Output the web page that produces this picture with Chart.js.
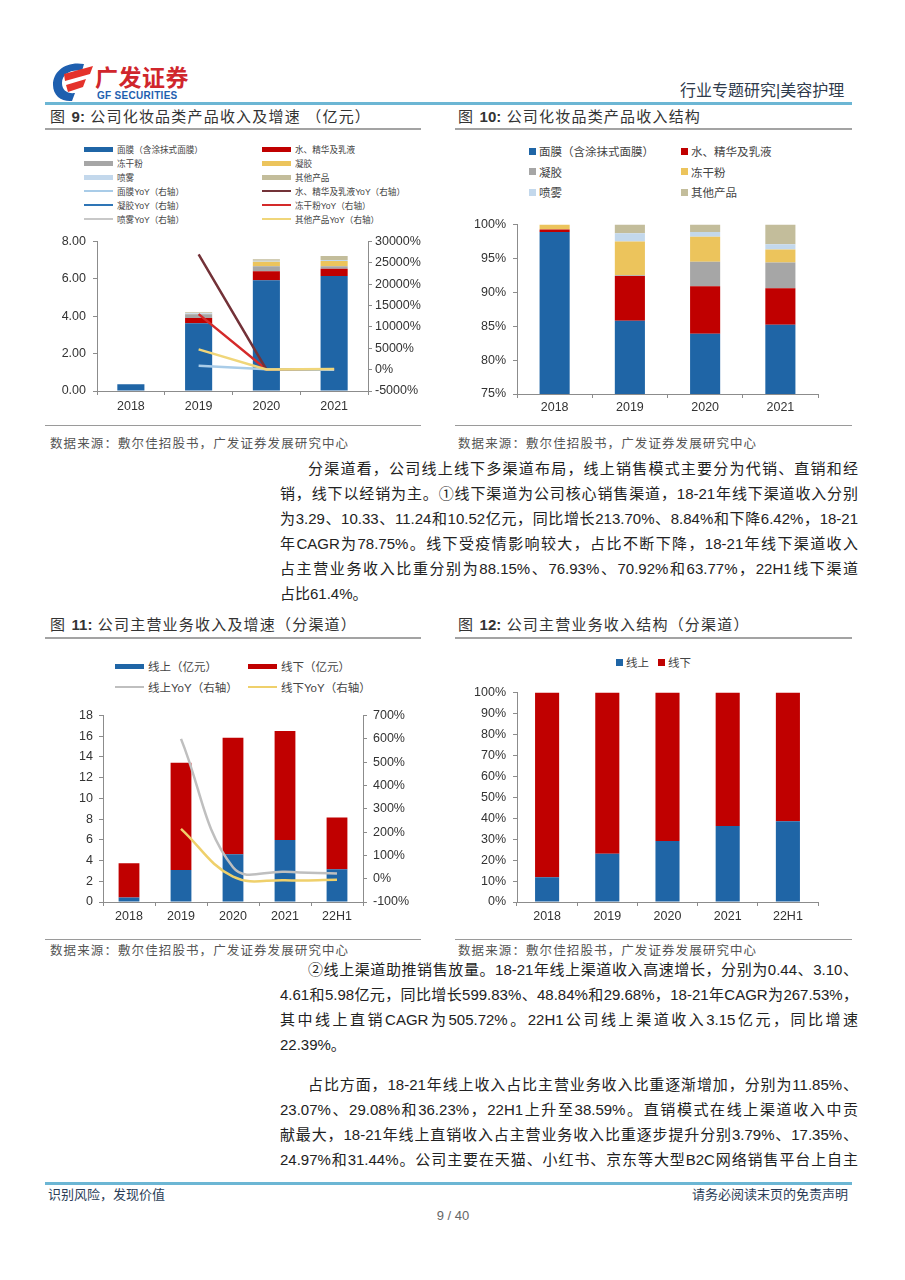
<!DOCTYPE html>
<html>
<head>
<meta charset="utf-8">
<script src="https://cdn.jsdelivr.net/npm/chart.js@4.4.1/dist/chart.umd.min.js"></script>
<style>
  body {
    margin: 0;
    width: 905px;
    height: 1280px;
    position: relative;
    overflow: hidden;
    background: #fff;
    color: #333;
    font-family: "Liberation Sans", Arial, "Noto Sans CJK SC", sans-serif;
  }
  .abs { position: absolute; }
  .rule-blue { position: absolute; height: 3px; background: #6cb6d4; }
  .rule-gray { position: absolute; height: 2px; background: #a3a3a3; }
  .rule-thin { position: absolute; height: 1px; background: #9a9a9a; }
  .fig-title { position: absolute; font-size: 15px; letter-spacing: 1.2px; line-height: 20px; color: #333; white-space: nowrap; }
  .fig-title b { font-weight: bold; letter-spacing: 0; }
  .source { position: absolute; font-size: 12.5px; letter-spacing: 1.1px; line-height: 16px; color: #555; white-space: nowrap; }
  .para { position: absolute; left: 280px; width: 578px; font-size: 15px; color: #222; }
  .para div { height: 25px; line-height: 25px; text-align: justify; text-align-last: justify; }
  .para div.first { padding-left: 28px; }
  .para div.last { text-align-last: left; }
  .legend { position: absolute; display: grid; color: #444; }
  .lg-item { display: flex; align-items: center; white-space: nowrap; }
  .sw-bar { display: inline-block; width: 29px; height: 5px; margin-right: 4px; }
  .sw-line { display: inline-block; width: 29px; height: 2px; margin-right: 4px; }
  .sw-sq { display: inline-block; width: 7px; height: 7px; margin-right: 3px; }
  canvas { position: absolute; }
</style>
</head>
<body>

<!-- header -->
<svg class="abs" style="left:50px;top:61px" width="44" height="42" viewBox="0 0 44 42">
  <path d="M34 3 C16 0 3 10 3 24 C3 35 12 41 22 40 L25 32 C17 33 12 29 12 22 C12 13 21 8 32 10 Z" fill="#1e5faf"/>
  <path d="M14 13 L43 5 L40 13 L15 20 Z" fill="#e4322b"/>
  <path d="M16 24 L36 18 L33 26 L18 31 Z" fill="#e4322b"/>
</svg>
<div class="abs" style="left:95px;top:62px;font-size:23px;font-weight:bold;color:#d0262c;letter-spacing:0.5px;font-family:'Noto Sans CJK SC',sans-serif;line-height:28px">广发证券</div>
<div class="abs" style="left:97px;top:90px;font-size:10px;font-weight:bold;color:#1e5faf;letter-spacing:0.3px;line-height:12px">GF SECURITIES</div>
<div class="abs" style="left:680px;top:80px;font-size:16px;color:#2f3b4c;line-height:22px;white-space:nowrap">行业专题研究|美容护理</div>
<div class="rule-blue" style="left:45px;top:102px;width:807px"></div>

<!-- figure 9 / 10 titles -->
<div class="fig-title" style="left:50px;top:107px">图 <b>9:</b> 公司化妆品类产品收入及增速 （亿元）</div>
<div class="rule-gray" style="left:45px;top:128px;width:376px"></div>
<div class="fig-title" style="left:458px;top:107px">图 <b>10:</b> 公司化妆品类产品收入结构</div>
<div class="rule-gray" style="left:455px;top:128px;width:397px"></div>

<div id="legend9" class="legend" style="left:84px;top:142px;grid-template-columns:178px 180px;grid-auto-rows:14px;font-size:8.6px"></div>
<canvas id="chart9" width="380" height="191" style="left:45px;top:227px"></canvas>

<div id="legend10" class="legend" style="left:529px;top:141px;grid-template-columns:152px 150px;grid-auto-rows:20.5px;font-size:11.5px"></div>
<canvas id="chart10" width="395" height="210" style="left:455px;top:210px"></canvas>

<div class="rule-thin" style="left:45px;top:425px;width:376px"></div>
<div class="source" style="left:50px;top:436px">数据来源：敷尔佳招股书，广发证券发展研究中心</div>
<div class="rule-thin" style="left:455px;top:425px;width:397px"></div>
<div class="source" style="left:458px;top:436px">数据来源：敷尔佳招股书，广发证券发展研究中心</div>

<!-- paragraph 1 -->
<div class="para" style="top:455.5px">
  <div class="first">分渠道看，公司线上线下多渠道布局，线上销售模式主要分为代销、直销和经</div>
  <div>销，线下以经销为主。①线下渠道为公司核心销售渠道，18-21年线下渠道收入分别</div>
  <div>为3.29、10.33、11.24和10.52亿元，同比增长213.70%、8.84%和下降6.42%，18-21</div>
  <div>年CAGR为78.75%。线下受疫情影响较大，占比不断下降，18-21年线下渠道收入</div>
  <div>占主营业务收入比重分别为88.15%、76.93%、70.92%和63.77%，22H1线下渠道</div>
  <div class="last">占比61.4%。</div>
</div>

<!-- figure 11 / 12 titles -->
<div class="fig-title" style="left:50px;top:615px">图 <b>11:</b> 公司主营业务收入及增速（分渠道）</div>
<div class="rule-gray" style="left:45px;top:637px;width:376px"></div>
<div class="fig-title" style="left:458px;top:615px">图 <b>12:</b> 公司主营业务收入结构（分渠道）</div>
<div class="rule-gray" style="left:455px;top:637px;width:397px"></div>

<div id="legend11" class="legend" style="left:115px;top:655.5px;grid-template-columns:133px 150px;grid-auto-rows:21px;font-size:11.5px"></div>
<canvas id="chart11" width="380" height="230" style="left:45px;top:702px"></canvas>

<div id="legend12" class="legend" style="left:616px;top:654px;grid-template-columns:42px 50px;grid-auto-rows:16px;font-size:11.5px"></div>
<canvas id="chart12" width="395" height="255" style="left:455px;top:678px"></canvas>

<div class="rule-thin" style="left:45px;top:939px;width:376px"></div>
<div class="source" style="left:50px;top:943px">数据来源：敷尔佳招股书，广发证券发展研究中心</div>
<div class="rule-thin" style="left:455px;top:939px;width:397px"></div>
<div class="source" style="left:458px;top:943px">数据来源：敷尔佳招股书，广发证券发展研究中心</div>

<!-- paragraph 2 and 3 -->
<div class="para" style="top:956.5px">
  <div class="first">②线上渠道助推销售放量。18-21年线上渠道收入高速增长，分别为0.44、3.10、</div>
  <div>4.61和5.98亿元，同比增长599.83%、48.84%和29.68%，18-21年CAGR为267.53%，</div>
  <div>其中线上直销CAGR为505.72%。22H1公司线上渠道收入3.15亿元，同比增速</div>
  <div class="last">22.39%。</div>
</div>
<div class="para" style="top:1071.5px">
  <div class="first">占比方面，18-21年线上收入占比主营业务收入比重逐渐增加，分别为11.85%、</div>
  <div>23.07%、29.08%和36.23%，22H1上升至38.59%。直销模式在线上渠道收入中贡</div>
  <div>献最大，18-21年线上直销收入占主营业务收入比重逐步提升分别3.79%、17.35%、</div>
  <div>24.97%和31.44%。公司主要在天猫、小红书、京东等大型B2C网络销售平台上自主</div>
</div>

<!-- footer -->
<div class="rule-blue" style="left:45px;top:1182px;width:807px"></div>
<div class="abs" style="left:48px;top:1187px;font-size:13px;color:#2b3d57;line-height:16px;white-space:nowrap">识别风险，发现价值</div>
<div class="abs" style="left:692px;top:1187px;font-size:13px;color:#2b3d57;line-height:16px;white-space:nowrap">请务必阅读末页的免责声明</div>
<div class="abs" style="left:432px;top:1208px;width:42px;text-align:center;font-size:13px;color:#666;line-height:16px">9 / 40</div>

<script>
// ---------- data ----------
const years4 = ['2018', '2019', '2020', '2021'];
const years5 = ['2018', '2019', '2020', '2021', '22H1'];

// 图9: 化妆品类产品收入（亿元）
const rev9Mask = [0.355, 3.62, 5.92, 6.15];
const rev9Water = [0.002, 0.28, 0.49, 0.39];
const rev9Freeze = [0.003, 0.21, 0.26, 0.14];
const rev9Gel = [0, 0.004, 0.25, 0.27];
const rev9Spray = [0, 0.05, 0.05, 0.06];
const rev9Other = [0, 0.055, 0.08, 0.21];
// 图9: YoY (%)
const yoy9Mask = [null, 889, 63.5, 3.9];
const yoy9Water = [null, 27000, 60, -20];
const yoy9Gel = [null, null, null, 8];
const yoy9Freeze = [null, 13000, 20, -46];
const yoy9Spray = [null, null, -2, 20];
const yoy9Other = [null, 4750, 40, 160];
const ticks9Left = [0, 2, 4, 6, 8];
const ticks9Right = [-5000, 0, 5000, 10000, 15000, 20000, 25000, 30000];

// 图10: 收入结构 (%)
const share10Mask = [98.9, 85.8, 83.9, 85.2];
const share10Water = [0.35, 6.6, 7.0, 5.4];
const share10Gel = [0, 0.1, 3.6, 3.8];
const share10Freeze = [0.75, 5.0, 3.7, 1.9];
const share10Spray = [0, 1.2, 0.7, 0.8];
const share10Other = [0, 1.3, 1.1, 2.9];
const ticks10 = [75, 80, 85, 90, 95, 100];

// 图11: 分渠道收入（亿元）及YoY
const rev11Online = [0.44, 3.10, 4.61, 5.98, 3.15];
const rev11Offline = [3.29, 10.33, 11.24, 10.52, 5.01];
const yoy11Online = [null, 599.83, 48.84, 29.68, 22.39];
const yoy11Offline = [null, 213.70, 8.84, -6.42, -5];
const ticks11Left = [0, 2, 4, 6, 8, 10, 12, 14, 16, 18];
const ticks11Right = [-100, 0, 100, 200, 300, 400, 500, 600, 700];

// 图12: 分渠道收入结构 (%)
const share12Online = [11.85, 23.07, 29.08, 36.23, 38.59];
const share12Offline = [88.15, 76.93, 70.92, 63.77, 61.41];
const ticks12 = [0, 10, 20, 30, 40, 50, 60, 70, 80, 90, 100];

// ---------- colours ----------
const BLUE = '#1f65a6';
const RED = '#c00000';
const GRAY = '#a6a6a6';
const YELLOW = '#ecc45c';
const LIGHTBLUE = '#c3d8ec';
const TAN = '#c3bd9b';
const AXIS = '#8c8c8c';

Chart.defaults.font.family = '"Liberation Sans", Arial, "Noto Sans CJK SC", sans-serif';
Chart.defaults.color = '#333';
Chart.defaults.animation = false;
Chart.defaults.plugins.legend.display = false;
Chart.defaults.plugins.tooltip.enabled = false;

// value axis with outward tick marks, no gridlines
function valueAxis(position, ticks, fmt, width, pad, stacked) {
  return {
    position: position,
    stacked: stacked,
    min: ticks[0],
    max: ticks[ticks.length - 1],
    border: {display: true, color: AXIS, width: 1},
    grid: {display: true, drawOnChartArea: false, drawTicks: true, tickLength: 4, color: AXIS},
    afterBuildTicks: s => { s.ticks = ticks.map(v => ({value: v})); },
    ticks: {padding: pad, font: {size: 12.5}, color: '#333', callback: fmt},
    afterFit: s => { s.width = width; },
  };
}

// category axis, tick marks between categories
function catAxis(height, pad) {
  return {
    stacked: true,
    border: {display: true, color: AXIS, width: 1},
    grid: {display: true, drawOnChartArea: false, drawTicks: true, tickLength: 4, color: AXIS, offset: true},
    ticks: {padding: pad, font: {size: 12.5}, color: '#333', maxRotation: 0, autoSkip: false},
    afterFit: s => { s.height = height; },
  };
}

function bar(label, data, color) {
  return {type: 'bar', label: label, data: data, backgroundColor: color, yAxisID: 'y',
          barPercentage: 0.4, categoryPercentage: 1, order: 2};
}

function line(label, data, color, tension, order) {
  return {type: 'line', label: label, data: data, borderColor: color, backgroundColor: color,
          yAxisID: 'y1', borderWidth: 2.5, pointRadius: 0, fill: false, tension: tension,
          order: order};
}

// HTML legend built from the chart's own datasets
function buildLegend(id, chart, square) {
  const box = document.getElementById(id);
  chart.data.datasets.forEach(ds => {
    const item = document.createElement('div');
    item.className = 'lg-item';
    const sw = document.createElement('span');
    if (square) {
      sw.className = 'sw-sq';
      sw.style.background = ds.backgroundColor;
    } else if (ds.type === 'line') {
      sw.className = 'sw-line';
      sw.style.background = ds.borderColor;
    } else {
      sw.className = 'sw-bar';
      sw.style.background = ds.backgroundColor;
    }
    const txt = document.createElement('span');
    txt.innerText = ds.label;
    item.appendChild(sw);
    item.appendChild(txt);
    box.appendChild(item);
  });
}

const pct = v => v + '%';

// ---------- 图9 ----------
const chart9 = new Chart(document.getElementById('chart9'), {
  data: {
    labels: years4,
    datasets: [
      bar('面膜（含涂抹式面膜）', rev9Mask, BLUE),
      bar('水、精华及乳液', rev9Water, RED),
      bar('冻干粉', rev9Freeze, GRAY),
      bar('凝胶', rev9Gel, YELLOW),
      bar('喷雾', rev9Spray, LIGHTBLUE),
      bar('其他产品', rev9Other, TAN),
      line('面膜YoY（右轴）', yoy9Mask, '#a9cce8', 0, 1),
      line('水、精华及乳液YoY（右轴）', yoy9Water, '#733238', 0, 1),
      line('凝胶YoY（右轴）', yoy9Gel, '#2e75b6', 0, 1),
      line('冻干粉YoY（右轴）', yoy9Freeze, '#d42a2a', 0, 1),
      line('喷雾YoY（右轴）', yoy9Spray, '#c8c8c8', 0, 1),
      line('其他产品YoY（右轴）', yoy9Other, '#f0d67a', 0, 0),
    ],
  },
  options: {
    responsive: false,
    layout: {padding: {top: 8, right: 0, bottom: 0, left: 0}},
    scales: {
      x: catAxis(27, 4),
      y: valueAxis('left', ticks9Left, v => v.toFixed(2), 52, 7, true),
      y1: valueAxis('right', ticks9Right, pct, 57, 3, false),
    },
  },
});
buildLegend('legend9', chart9, false);

// ---------- 图10 ----------
const chart10 = new Chart(document.getElementById('chart10'), {
  type: 'bar',
  data: {
    labels: years4,
    datasets: [
      bar('面膜（含涂抹式面膜）', share10Mask, BLUE),
      bar('水、精华及乳液', share10Water, RED),
      bar('凝胶', share10Gel, GRAY),
      bar('冻干粉', share10Freeze, YELLOW),
      bar('喷雾', share10Spray, LIGHTBLUE),
      bar('其他产品', share10Other, TAN),
    ],
  },
  options: {
    responsive: false,
    layout: {padding: {top: 9, right: 32, bottom: 0, left: 0}},
    scales: {
      x: catAxis(26, 2),
      y: valueAxis('left', ticks10, pct, 62, 7, true),
    },
  },
});
buildLegend('legend10', chart10, true);

// ---------- 图11 ----------
const chart11 = new Chart(document.getElementById('chart11'), {
  data: {
    labels: years5,
    datasets: [
      bar('线上（亿元）', rev11Online, BLUE),
      bar('线下（亿元）', rev11Offline, RED),
      line('线上YoY（右轴）', yoy11Online, '#bfbfbf', 0.4, 1),
      line('线下YoY（右轴）', yoy11Offline, '#efd06b', 0.4, 1),
    ],
  },
  options: {
    responsive: false,
    layout: {padding: {top: 8, right: 0, bottom: 0, left: 0}},
    scales: {
      x: catAxis(30, 3),
      y: valueAxis('left', ticks11Left, v => v, 58, 6, true),
      y1: valueAxis('right', ticks11Right, pct, 62, 6, false),
    },
  },
});
buildLegend('legend11', chart11, false);

// ---------- 图12 ----------
const chart12 = new Chart(document.getElementById('chart12'), {
  type: 'bar',
  data: {
    labels: years5,
    datasets: [
      bar('线上', share12Online, BLUE),
      bar('线下', share12Offline, RED),
    ],
  },
  options: {
    responsive: false,
    layout: {padding: {top: 8, right: 32, bottom: 0, left: 0}},
    scales: {
      x: catAxis(31, 3),
      y: valueAxis('left', ticks12, pct, 62, 7, true),
    },
  },
});
buildLegend('legend12', chart12, true);
</script>
</body>
</html>
